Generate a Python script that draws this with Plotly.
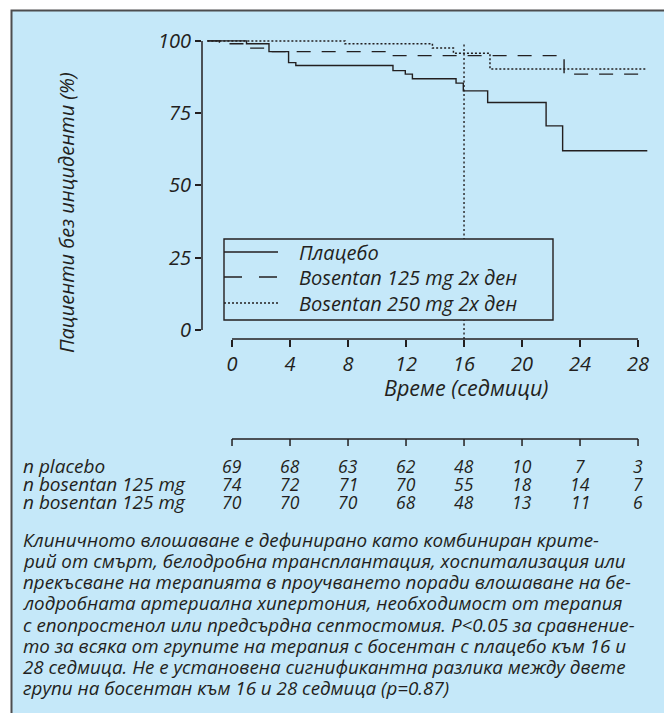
import plotly.graph_objects as go

# ---------------- data ----------------
week_ticks = [0, 4, 8, 12, 16, 20, 24, 28]
y_ticks = [0, 25, 50, 75, 100]

placebo_t = [-1.7, 1.0, 2.55, 3.9, 4.4, 11.1, 11.95, 12.44, 15.45, 15.95, 17.63, 21.66, 22.8, 28.64]
placebo_s = [100, 99.0, 96.3, 92.5, 91.5, 89.7, 88.5, 86.9, 85.4, 82.7, 78.7, 70.6, 62.0, 62.0]

bos125_t = [-1.7, -0.87, 1.24, 2.6, 10.67, 22.9, 28.64]
bos125_s = [100, 99.0, 97.5, 96.3, 94.9, 88.5, 88.5]

bos250_t = [-1.7, 7.79, 13.82, 15.27, 17.79, 28.64]
bos250_s = [100, 99.0, 97.5, 95.7, 90.3, 90.3]

series_names = ["Плацебо", "Bosentan 125 mg 2x ден", "Bosentan 250 mg 2x ден"]

risk_labels = ["n placebo", "n bosentan 125 mg", "n bosentan 125 mg"]
n_placebo = [69, 68, 63, 62, 48, 10, 7, 3]
n_bos125 = [74, 72, 71, 70, 55, 18, 14, 7]
n_bos250 = [70, 70, 70, 68, 48, 13, 11, 6]

ref_week = 16

x_title = "Време (седмици)"
y_title = "Пациенти без инциденти (%)"
caption_lines = [
    "Клиничното влошаване е дефинирано като комбиниран крите-",
    "рий от смърт, белодробна трансплантация, хоспитализация или",
    "прекъсване на терапията в проучването поради влошаване на бе-",
    "лодробната артериална хипертония, необходимост от терапия",
    "с епопростенол или предсърдна септостомия. P&lt;0.05 за сравнение-",
    "то за всяка от групите на терапия с босентан с плацебо към 16 и",
    "28 седмица. Не е установена сигнификантна разлика между двете",
    "групи на босентан към 16 и 28 седмица (p=0.87)",
]

# ---------------- layout constants (screen pixels; page body has 8px margin) ----------------
OFF = 8
W, H = 672 - OFF, 713 - OFF
PL, PR, PT, PB = 202, 655, 38, 339          # plot area in screen pixels
ML, MT = PL - OFF, PT - OFF
MR, MB = W - (PR - OFF), H - (PB - OFF)
PW, PH = PR - PL, PB - PT
BG = "#c5e8f9"
INK = "#231f20"
FONT = "Open Sans"


def py(Y):  # screen pixel y -> paper y
    return (PB - Y) / PH


def px(X):  # screen pixel x -> paper x
    return (X - PL) / PW


fig = go.Figure()

line_styles = [
    dict(color=INK, width=1.4, dash="solid"),
    dict(color=INK, width=1.4, dash="14px,11px"),
    dict(color=INK, width=1.5, dash="2px,2px"),
]
for t, s, name, ls in zip([placebo_t, bos125_t, bos250_t],
                          [placebo_s, bos125_s, bos250_s],
                          series_names, line_styles):
    fig.add_trace(go.Scatter(x=t, y=s, mode="lines", line=ls, line_shape="hv",
                             name=name, showlegend=False, hoverinfo="skip"))

shapes = []
# outer frame
shapes.append(dict(type="rect", xref="paper", yref="paper", x0=px(11.5), x1=px(667.5),
                   y0=py(760), y1=py(10.5), fillcolor=BG,
                   line=dict(color="#4d4d4f", width=2), layer="below"))
# vertical reference line at week 16
shapes.append(dict(type="line", xref="x", yref="y", x0=ref_week, x1=ref_week, y0=-3.1, y1=99.3,
                   line=dict(color=INK, width=1.4, dash="2px,2.5px")))
# y axis line
shapes.append(dict(type="line", xref="paper", yref="y", x0=0, x1=0, y0=0, y1=100,
                   line=dict(color=INK, width=1.5)))
# x axis line
shapes.append(dict(type="line", xref="x", yref="paper", x0=week_ticks[0], x1=week_ticks[-1],
                   y0=0, y1=0, line=dict(color=INK, width=1.5)))
# legend box
shapes.append(dict(type="rect", xref="paper", yref="paper", x0=px(224), x1=px(553),
                   y0=py(320), y1=py(239), fillcolor=BG, line=dict(color=INK, width=1.4)))
leg_rows = [252, 277, 303]
leg_dash = ["solid", "18px,17px", "2px,2px"]
for yy, d in zip(leg_rows, leg_dash):
    shapes.append(dict(type="line", xref="paper", yref="paper", x0=px(224), x1=px(278),
                       y0=py(yy), y1=py(yy), line=dict(color=INK, width=1.4, dash=d)))
# at-risk table axis
TBL_Y = 439
shapes.append(dict(type="line", xref="x", yref="paper", x0=week_ticks[0], x1=week_ticks[-1],
                   y0=py(TBL_Y), y1=py(TBL_Y), line=dict(color=INK, width=1.5)))
for wk in week_ticks:
    shapes.append(dict(type="line", xref="x", yref="paper", x0=wk, x1=wk,
                       y0=py(TBL_Y), y1=py(TBL_Y + 7), line=dict(color=INK, width=1.5)))

ann = []
ifont = lambda sz: dict(family=FONT, size=sz, color=INK, style="italic")
# legend text
for yy, name in zip(leg_rows, series_names):
    ann.append(dict(xref="paper", yref="paper", x=px(297), y=py(yy), text=name, showarrow=False,
                    xanchor="left", yanchor="middle", font=ifont(20)))
# axis titles
ann.append(dict(xref="paper", yref="paper", x=px(466), y=py(387), text=x_title, showarrow=False,
                xanchor="center", yanchor="middle", font=ifont(21.5)))
ann.append(dict(xref="paper", yref="paper", x=px(67), y=py(213), text=y_title, showarrow=False,
                xanchor="center", yanchor="middle", textangle=-90, font=ifont(20)))
# at-risk table
rows_y = [466, 484, 502]
for yy, lab, vals in zip(rows_y, risk_labels, [n_placebo, n_bos125, n_bos250]):
    ann.append(dict(xref="paper", yref="paper", x=px(21), y=py(yy), text=lab, showarrow=False,
                    xanchor="left", yanchor="middle", font=ifont(19)))
    for wk, v in zip(week_ticks, vals):
        ann.append(dict(xref="x", yref="paper", x=wk, y=py(yy), text=str(v), showarrow=False,
                        xanchor="center", yanchor="middle", font=ifont(17.5)))
# caption
for i, line in enumerate(caption_lines):
    ann.append(dict(xref="paper", yref="paper", x=px(21), y=py(540 + 21.15 * i), text=line,
                    showarrow=False, xanchor="left", yanchor="middle", font=ifont(18.8)))

fig.update_layout(
    width=W, height=H, autosize=False,
    margin=dict(l=ML, r=MR, t=MT, b=MB),
    paper_bgcolor="white", plot_bgcolor="rgba(0,0,0,0)",
    shapes=shapes, annotations=ann, showlegend=False,
    xaxis=dict(range=[-2.07, 29.17], tickvals=week_ticks, ticktext=[str(v) for v in week_ticks],
               ticks="outside", ticklen=7, tickwidth=1.5, tickcolor=INK,
               showline=False, showgrid=False, zeroline=False, tickfont=ifont(20)),
    yaxis=dict(range=[-3.1, 101], tickvals=y_ticks, ticktext=[str(v) for v in y_ticks],
               ticks="outside", ticklen=6, tickwidth=1.5, tickcolor=INK,
               showline=False, showgrid=False, zeroline=False, tickfont=ifont(20)),
)

fig.write_html("out.html")
